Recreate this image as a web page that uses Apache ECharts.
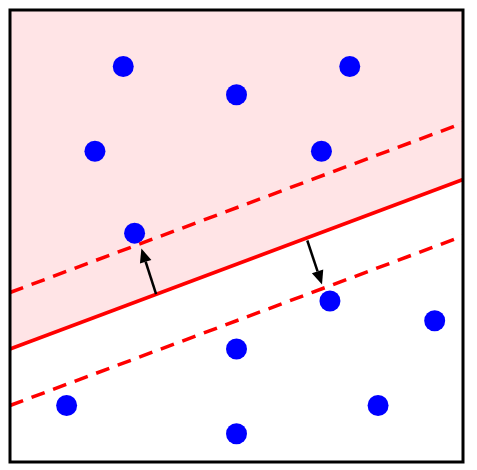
<!DOCTYPE html>
<html><head><meta charset="utf-8">
<script src="https://cdn.jsdelivr.net/npm/echarts@6/dist/echarts.min.js"></script>
<style>html,body{margin:0;padding:0;background:#fff}#c{width:477px;height:470px}</style>
</head><body><div id="c"></div>
<script>
// data points (x, y)
var pointsX = [2, 4, 6, 1.5, 5.5, 2.2, 5.65, 7.5, 4, 1, 6.5, 4];
var pointsY = [7, 6.5, 7, 5.5, 5.5, 4.05, 2.85, 2.5, 2, 1, 1, 0.5];
// separating line y = b + m*x, margins at b +/- 1
var slope = 0.375;
var intercept = 2;
var margin = 1;
var lineX = [0, 8];
var arrowsFrom = [[2.58, 2.97], [5.25, 3.92]];
var arrowsTo = [[2.32, 3.78], [5.51, 3.14]];

function lineAt(off) {
  return lineX.map(function (x) { return [x, intercept + off + slope * x]; });
}
// region above the separating line
var region = lineAt(0).concat([[8, 8], [0, 8]]);

var chart = echarts.init(document.getElementById('c'));
chart.setOption({
  animation: false,
  grid: { left: 10, top: 10, width: 453, height: 452, show: true, borderColor: '#000', borderWidth: 3, z: 10 },
  xAxis: { type: 'value', min: 0, max: 8, show: false },
  yAxis: { type: 'value', min: 0, max: 8, show: false },
  series: [
    { type: 'custom', data: [0], z: 0,
      renderItem: function (params, api) {
        return { type: 'polygon', shape: { points: region.map(function (p) { return api.coord(p); }) },
          style: { fill: '#ffe4e6' } };
      } },
    { type: 'line', data: lineAt(0), symbol: 'none', lineStyle: { color: '#f00', width: 3.5 } },
    { type: 'line', data: lineAt(margin), symbol: 'none', lineStyle: { color: '#f00', width: 3.5, type: [14, 9] } },
    { type: 'line', data: lineAt(-margin), symbol: 'none', lineStyle: { color: '#f00', width: 3.5, type: [14, 9] } },
    { type: 'custom', data: arrowsFrom.map(function (f, i) { return f.concat(arrowsTo[i]); }), z: 4,
      renderItem: function (params, api) {
        var a = api.coord([api.value(0), api.value(1)]);
        var b = api.coord([api.value(2), api.value(3)]);
        var dx = b[0] - a[0], dy = b[1] - a[1], len = Math.sqrt(dx * dx + dy * dy);
        var ux = dx / len, uy = dy / len, h = 14, w = 6;
        var bx = b[0] - ux * h, by = b[1] - uy * h;
        return { type: 'group', children: [
          { type: 'line', shape: { x1: a[0], y1: a[1], x2: bx, y2: by }, style: { stroke: '#000', lineWidth: 2.5 } },
          { type: 'polygon', shape: { points: [b, [bx - uy * w, by + ux * w], [bx + uy * w, by - ux * w]] }, style: { fill: '#000' } }
        ] };
      } },
    { type: 'scatter', symbolSize: 21, itemStyle: { color: '#0000ff', opacity: 1 }, z: 5,
      data: pointsX.map(function (x, i) { return [x, pointsY[i]]; }) }
  ]
});
</script></body></html>
